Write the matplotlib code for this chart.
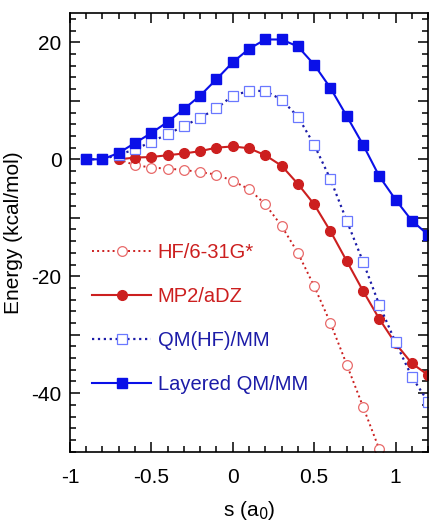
import matplotlib
matplotlib.use("Agg")
import matplotlib.pyplot as plt
from matplotlib.ticker import MultipleLocator

plt.rcParams['font.family'] = ['Liberation Sans', 'DejaVu Sans']
plt.rcParams['axes.unicode_minus'] = False

# ---- data ----
s_layered = [-0.9, -0.8, -0.7, -0.6, -0.5, -0.4, -0.3, -0.2, -0.1, 0.0, 0.1,
             0.2, 0.3, 0.4, 0.5, 0.6, 0.7, 0.8, 0.9, 1.0, 1.1, 1.2]
e_layered = [0.0, 0.0, 1.1, 2.8, 4.5, 6.4, 8.6, 10.9, 13.7, 16.6, 18.9,
             20.5, 20.5, 19.3, 16.2, 12.2, 7.4, 2.5, -2.9, -6.9, -10.5, -12.9]

s_qmmm = [-0.9, -0.8, -0.7, -0.6, -0.5, -0.4, -0.3, -0.2, -0.1, 0.0, 0.1,
          0.2, 0.3, 0.4, 0.5, 0.6, 0.7, 0.8, 0.9, 1.0, 1.1, 1.2]
e_qmmm = [0.0, 0.0, 0.8, 1.7, 3.0, 4.3, 5.7, 7.1, 8.7, 10.9, 11.7,
          11.7, 10.2, 7.3, 2.5, -3.4, -10.5, -17.5, -24.9, -31.3, -37.2, -41.5]

s_mp2 = [-0.7, -0.6, -0.5, -0.4, -0.3, -0.2, -0.1, 0.0, 0.1, 0.2, 0.3,
         0.4, 0.5, 0.6, 0.7, 0.8, 0.9, 1.0, 1.1, 1.2]
e_mp2 = [0.0, 0.3, 0.4, 0.7, 1.0, 1.4, 2.0, 2.2, 1.9, 0.7, -1.1,
         -4.2, -7.7, -12.3, -17.4, -22.5, -27.3, -31.5, -34.9, -36.9]

s_hf = [-0.7, -0.6, -0.5, -0.4, -0.3, -0.2, -0.1, 0.0, 0.1, 0.2, 0.3,
        0.4, 0.5, 0.6, 0.7, 0.8, 0.9]
e_hf = [0.0, -1.0, -1.4, -1.6, -1.8, -2.2, -2.6, -3.7, -5.1, -7.7, -11.4,
        -16.0, -21.7, -28.0, -35.1, -42.3, -49.6]

labels = ['HF/6-31G*', 'MP2/aDZ', 'QM(HF)/MM', 'Layered QM/MM']

# ---- colours ----
red = '#cc1f1f'
red_light = '#e86a6a'
blue = '#0a10e8'
blue_dark = '#1c1ca8'
blue_light = '#6a78ff'

fig = plt.figure(figsize=(4.29, 5.27), dpi=100)
ax = fig.add_axes([0.163, 0.143, 0.835, 0.832])

ax.plot(s_hf, e_hf, linestyle=':', color=red, lw=1.4, marker='o', ms=7,
        mfc='white', mec=red_light, mew=0.9, label=labels[0])
ax.plot(s_mp2, e_mp2, linestyle='-', color=red, lw=1.5, marker='o', ms=7,
        mfc=red, mec=red, label=labels[1])
ax.plot(s_qmmm, e_qmmm, linestyle=':', color=blue_dark, lw=1.6, marker='s', ms=6.5,
        mfc='white', mec=blue_light, mew=0.9, label=labels[2])
ax.plot(s_layered, e_layered, linestyle='-', color=blue, lw=1.5, marker='s', ms=6.5,
        mfc=blue, mec=blue, label=labels[3])

ax.set_xlim(-1, 1.2)
ax.set_ylim(-50, 25)
ax.xaxis.set_minor_locator(MultipleLocator(0.1))
ax.yaxis.set_minor_locator(MultipleLocator(2))
ax.set_yticks([-40, -30, -20, -10, 0, 10, 20])
ax.set_yticklabels(['-40', '', '-20', '', '0', '', '20'])
ax.set_xticks([-1, -0.5, 0, 0.5, 1])
ax.set_xticklabels(['-1', '-0.5', '0', '0.5', '1'])

ax.tick_params(which='both', direction='in', top=True, right=True,
               width=1.1, labelsize=15)
ax.tick_params(which='major', length=7)
ax.tick_params(which='minor', length=4)
ax.tick_params(axis='x', pad=12)
ax.tick_params(axis='y', pad=6)
for sp in ax.spines.values():
    sp.set_linewidth(1.2)

ax.set_xlabel('s (a$_0$)', fontsize=15)
ax.set_ylabel('Energy (kcal/mol)', fontsize=15)
ax.xaxis.set_label_coords(0.5, -0.108)
ax.yaxis.set_label_coords(-0.13, 0.5)

leg = ax.legend(loc='upper left', bbox_to_anchor=(0.04, 0.495), frameon=False,
                fontsize=14.5, handlelength=2.9, handletextpad=0.35,
                labelspacing=1.25, borderaxespad=0)
for txt, c in zip(leg.get_texts(), [red, red, blue_dark, blue_dark]):
    txt.set_color(c)

fig.savefig('out.png', dpi=100)
